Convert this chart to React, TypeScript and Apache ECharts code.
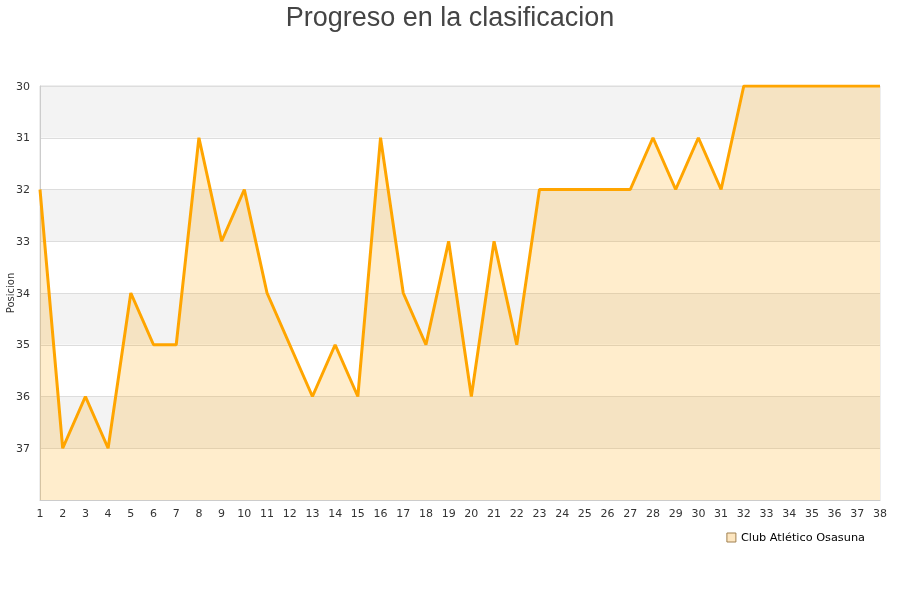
import { useEffect, useRef } from 'react';
import * as echarts from 'echarts';

const jornadas = Array.from({ length: 38 }, (_, i) => String(i + 1));
const posiciones = [
    32, 37, 36, 37, 34, 35, 35, 31, 33, 32,
    34, 35, 36, 35, 36, 31, 34, 35, 33, 36,
    33, 35, 32, 32, 32, 32, 32, 31, 32, 31,
    32, 30, 30, 30, 30, 30, 30, 30,
];
const equipo = 'Club Atlético Osasuna';

export default function App() {
    const chartRef = useRef<HTMLDivElement>(null);

    useEffect(() => {
        if (!chartRef.current) return;
        const chart = echarts.init(chartRef.current, null, { renderer: 'svg' });

        const option = {
            animation: false,
            title: {
                text: 'Progreso en la clasificacion',
                left: 'center',
                top: -2,
                textStyle: {
                    fontFamily: 'Liberation Sans',
                    fontSize: 27,
                    fontWeight: 'normal',
                    color: '#444',
                },
            },
            legend: {
                data: [{
                    name: equipo,
                    icon: 'rect',
                    itemStyle: { color: '#fde6c0', borderColor: '#a08050', borderWidth: 1 },
                }],
                right: 30,
                top: 527,
                itemWidth: 9,
                itemHeight: 9,
                itemGap: 8,
                textStyle: { fontFamily: 'DejaVu Sans', fontSize: 11.3, color: '#000' },
            },
            grid: {
                left: 40,
                right: 20,
                top: 86,
                bottom: 100,
                outerBoundsMode: 'none',
                containLabel: false,
                show: true,
                borderColor: '#ddd',
                borderWidth: 1,
            },
            xAxis: {
                type: 'category',
                data: jornadas,
                boundaryGap: false,
                axisLine: { lineStyle: { color: '#ccc' } },
                axisTick: { show: false },
                axisLabel: {
                    fontFamily: 'DejaVu Sans',
                    fontSize: 11,
                    color: '#333',
                    margin: 8,
                    interval: 0,
                },
                splitLine: { show: false },
            },
            yAxis: {
                type: 'value',
                inverse: true,
                min: 30,
                max: 38,
                interval: 1,
                name: 'Posicion',
                nameLocation: 'middle',
                nameGap: 25,
                nameMoveOverlap: false,
                nameTextStyle: { fontFamily: 'DejaVu Sans', fontSize: 10, color: '#333' },
                axisLine: { show: true, lineStyle: { color: '#ccc' } },
                axisTick: { show: false },
                axisLabel: {
                    fontFamily: 'DejaVu Sans',
                    fontSize: 11,
                    color: '#333',
                    margin: 10,
                    showMaxLabel: false,
                },
                splitLine: { lineStyle: { color: '#ddd', width: 1 } },
                splitArea: { show: true, areaStyle: { color: ['#f3f3f3', '#ffffff'] } },
            },
            series: [
                {
                    name: equipo,
                    type: 'line',
                    data: posiciones,
                    symbol: 'none',
                    lineStyle: { color: '#ffa500', width: 3 },
                    itemStyle: { color: '#ffa500' },
                    areaStyle: { color: 'rgba(255,165,0,0.2)', opacity: 1, origin: 'end' },
                },
            ],
        };

        chart.setOption(option);
        return () => chart.dispose();
    }, []);

    return (
        <div
            ref={chartRef}
            style={{ position: 'fixed', left: 0, top: 0, width: 900, height: 600 }}
        />
    );
}
